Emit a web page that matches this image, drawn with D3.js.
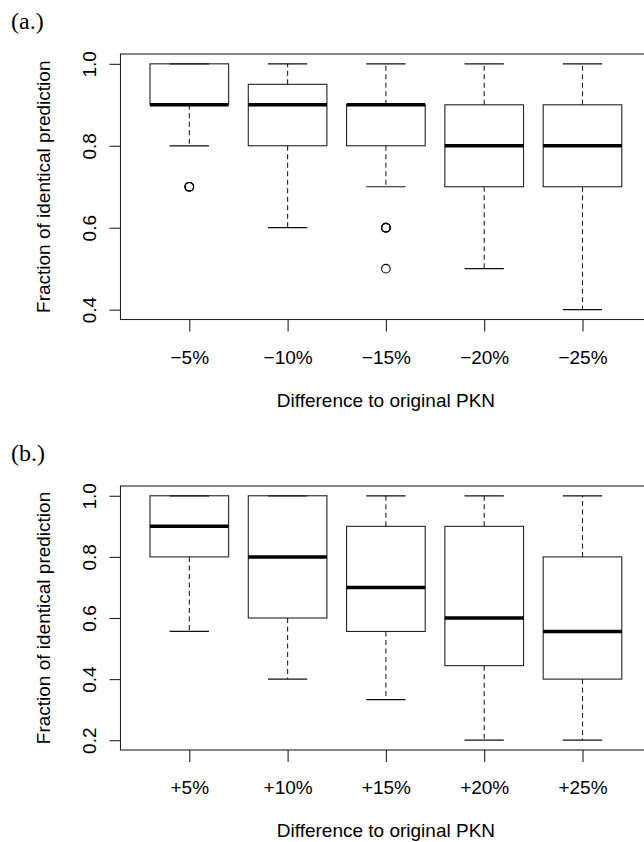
<!DOCTYPE html>
<html>
<head>
<meta charset="utf-8">
<script src="https://cdn.jsdelivr.net/npm/d3@7"></script>
<style>
  body { margin: 0; background: #fff; }
  svg { display: block; }
  .axis text { font-family: "Liberation Sans", Arial, sans-serif; font-size: 19px; fill: #000; }
  .axis line { stroke: #222; stroke-width: 1.1; }
  .title { font-family: "Liberation Sans", Arial, sans-serif; font-size: 19px; fill: #000; }
  .panel-label { font-family: "Liberation Serif", "DejaVu Serif", serif; font-size: 24px; fill: #000; }
</style>
</head>
<body>
<div id="chart"></div>
<script>
/* Two boxplot panels: fraction of identical prediction vs PKN change */

// panel (a.): edges removed
const groupsA = ['\u22125%', '\u221210%', '\u221215%', '\u221220%', '\u221225%'];
const lowA  = [0.8, 0.6, 0.7, 0.5, 0.4];
const q1A   = [0.9, 0.8, 0.8, 0.7, 0.7];
const medA  = [0.9, 0.9, 0.9, 0.8, 0.8];
const q3A   = [1.0, 0.95, 0.9, 0.9, 0.9];
const highA = [1.0, 1.0, 1.0, 1.0, 1.0];
const outA  = [[0.7, 0.7, 0.7], [], [0.6, 0.6, 0.6, 0.5], [], []];
const yTicksA = [0.4, 0.6, 0.8, 1.0];

// panel (b.): edges added
const groupsB = ['+5%', '+10%', '+15%', '+20%', '+25%'];
const lowB  = [0.556, 0.4, 0.333, 0.2, 0.2];
const q1B   = [0.8, 0.6, 0.556, 0.444, 0.4];
const medB  = [0.9, 0.8, 0.7, 0.6, 0.556];
const q3B   = [1.0, 1.0, 0.9, 0.9, 0.8];
const highB = [1.0, 1.0, 1.0, 1.0, 1.0];
const outB  = [[], [], [], [], []];
const yTicksB = [0.2, 0.4, 0.6, 0.8, 1.0];

const W = 644, H = 842;
const svg = d3.select('#chart').append('svg').attr('width', W).attr('height', H);

function drawPanel(opts) {
  const { label, top, bottom, groups, low, q1, med, q3, high, out, yTicks } = opts;
  const left = 120.5, right = 651.3;

  // R style: xlim 0.5..n+0.5 widened by 4%
  const n = groups.length;
  const x = d3.scaleLinear().domain([0.3, n + 0.7]).range([left, right]);

  const allVals = low.concat(high, out.flat());
  const lo = d3.min(allVals), hi = d3.max(allVals);
  const pad = (hi - lo) * 0.04;
  const y = d3.scaleLinear().domain([lo - pad, hi + pad]).range([bottom, top]);

  const g = svg.append('g');

  // panel letter
  svg.append('text').attr('class', 'panel-label')
    .attr('x', 11).attr('y', top - 25)
    .text(label);

  // whiskers (dashed)
  const idx = d3.range(n);
  g.selectAll('.whisk-hi').data(idx).enter().append('line')
    .attr('x1', i => x(i + 1)).attr('x2', i => x(i + 1))
    .attr('y1', i => y(q3[i])).attr('y2', i => y(high[i]))
    .attr('stroke', '#222').attr('stroke-width', 1.1).attr('stroke-dasharray', '5,3.5');
  g.selectAll('.whisk-lo').data(idx).enter().append('line')
    .attr('x1', i => x(i + 1)).attr('x2', i => x(i + 1))
    .attr('y1', i => y(q1[i])).attr('y2', i => y(low[i]))
    .attr('stroke', '#222').attr('stroke-width', 1.1).attr('stroke-dasharray', '5,3.5');

  // staples
  [low, high].forEach(arr => {
    g.selectAll(null).data(idx).enter().append('line')
      .attr('x1', i => x(i + 1 - 0.2)).attr('x2', i => x(i + 1 + 0.2))
      .attr('y1', i => y(arr[i])).attr('y2', i => y(arr[i]))
      .attr('stroke', '#111').attr('stroke-width', 1.2);
  });

  // boxes
  g.selectAll('.box').data(idx).enter().append('rect')
    .attr('x', i => x(i + 1 - 0.4))
    .attr('width', x(1.4) - x(0.6))
    .attr('y', i => y(q3[i]))
    .attr('height', i => y(q1[i]) - y(q3[i]))
    .attr('fill', 'none').attr('stroke', '#222').attr('stroke-width', 1.1);

  // medians
  g.selectAll('.med').data(idx).enter().append('line')
    .attr('x1', i => x(i + 1 - 0.4)).attr('x2', i => x(i + 1 + 0.4))
    .attr('y1', i => y(med[i])).attr('y2', i => y(med[i]))
    .attr('stroke', '#000').attr('stroke-width', 3.5);

  // outliers (repeated values overplot, like R)
  const pts = [];
  out.forEach((arr, i) => arr.forEach(v => pts.push({ i, v })));
  g.selectAll('.out').data(pts).enter().append('circle')
    .attr('cx', d => x(d.i + 1)).attr('cy', d => y(d.v)).attr('r', 4.3)
    .attr('fill', 'none').attr('stroke', '#000').attr('stroke-width', 1.1);

  // plot frame
  svg.append('rect')
    .attr('x', left).attr('y', top)
    .attr('width', right - left).attr('height', bottom - top)
    .attr('fill', 'none').attr('stroke', '#222').attr('stroke-width', 1.1);

  // y axis with rotated labels
  const ya = svg.append('g').attr('class', 'axis')
    .attr('transform', `translate(${left},0)`)
    .call(d3.axisLeft(y).tickValues(yTicks).tickSize(11).tickFormat(d3.format('.1f')));
  ya.select('.domain').remove();
  ya.selectAll('text')
    .attr('x', null).attr('dy', '0.35em')
    .attr('transform', 'translate(-31,0) rotate(-90)')
    .attr('text-anchor', 'middle');

  // x axis
  const xa = svg.append('g').attr('class', 'axis')
    .attr('transform', `translate(0,${bottom})`)
    .call(d3.axisBottom(x).tickValues(d3.range(1, n + 1)).tickSize(12).tickPadding(19)
      .tickFormat(d => groups[d - 1]));
  xa.select('.domain').remove();

  // titles
  svg.append('text').attr('class', 'title')
    .attr('text-anchor', 'middle')
    .attr('x', x(3)).attr('y', bottom + 87)
    .text('Difference to original PKN');
  svg.append('text').attr('class', 'title')
    .attr('text-anchor', 'middle')
    .attr('transform', `translate(50,${(top + bottom) / 2}) rotate(-90)`)
    .text('Fraction of identical prediction');
}

drawPanel({ label: '(a.)', top: 54, bottom: 319.5, groups: groupsA,
  low: lowA, q1: q1A, med: medA, q3: q3A, high: highA, out: outA, yTicks: yTicksA });
drawPanel({ label: '(b.)', top: 486, bottom: 750, groups: groupsB,
  low: lowB, q1: q1B, med: medB, q3: q3B, high: highB, out: outB, yTicks: yTicksB });
</script>
</body>
</html>
